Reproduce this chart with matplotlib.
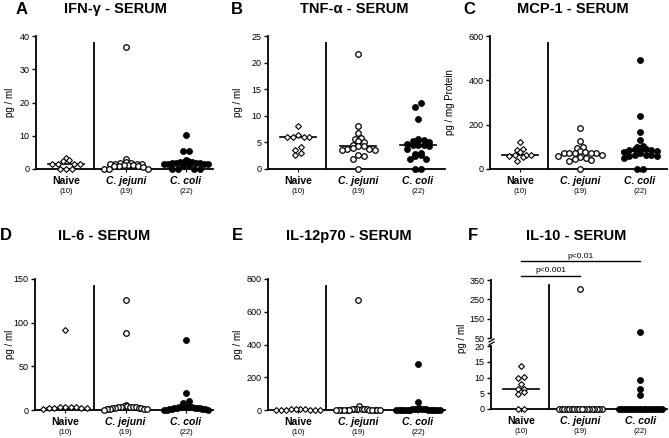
import matplotlib
matplotlib.use('Agg')
import matplotlib.pyplot as plt
import matplotlib.transforms as mtransforms
import numpy as np

plt.rcParams['font.family'] = ['Liberation Sans', 'DejaVu Sans']

# ---- data ----
groups = ['Naive', 'C. jejuni', 'C. coli']
counts = ['(10)', '(19)', '(22)']

ifng_naive = [3.2, 2.8, 2.3, 1.5, 1.5, 1.5, 1.5, 0, 0, 0]
ifng_jejuni = [36.8, 3.0, 2.0, 1.8, 1.8, 1.6, 1.5, 1.5, 1.4, 1.3, 1.2, 1.1, 1.0, 1.0, 0.9, 0.5, 0, 0, 0]
ifng_coli = [10.2, 5.5, 5.3, 2.8, 2.5, 2.2, 2.0, 2.0, 1.9, 1.8, 1.8, 1.7, 1.6, 1.5, 1.5, 1.4, 1.2, 1.0, 0, 0, 0, 0]

tnf_naive = [8.0, 6.3, 6.1, 6.1, 6.1, 6.1, 4.2, 3.6, 3.0, 2.6]
tnf_jejuni = [21.7, 8.1, 6.7, 5.8, 5.6, 5.2, 5.0, 4.5, 4.4, 4.3, 4.0, 3.8, 3.7, 3.6, 3.6, 2.6, 2.5, 1.8, 0]
tnf_coli = [12.5, 11.7, 9.4, 5.6, 5.4, 5.4, 5.3, 5.0, 4.7, 4.6, 4.5, 4.5, 4.3, 3.8, 3.0, 2.8, 2.6, 2.5, 1.8, 1.8, 0, 0]

mcp_naive = [120, 90, 85, 75, 65, 65, 62, 60, 55, 35]
mcp_jejuni = [185, 125, 100, 95, 80, 75, 72, 70, 70, 70, 70, 65, 60, 55, 50, 45, 40, 35, 0]
mcp_coli = [490, 238, 165, 130, 105, 100, 95, 90, 88, 85, 85, 80, 75, 70, 65, 65, 62, 60, 60, 50, 0, 0]

il6_naive = [92, 4, 4, 3.5, 3, 2.5, 2.5, 2, 2, 1]
il6_jejuni = [126, 88, 6, 5, 5, 4, 4, 3.5, 3, 3, 2.5, 2.5, 2, 2, 1.5, 1.5, 1, 1, 0.5]
il6_coli = [80, 19, 10, 8, 4, 4, 3.5, 3, 3, 3, 2.5, 2.5, 2, 2, 2, 1.5, 1.5, 1, 1, 0.5, 0.5, 0]

il12_naive = [8, 6, 4, 4, 3, 3, 2, 2, 1, 1]
il12_jejuni = [670, 25, 8, 6, 5, 5, 4, 4, 3, 3, 3, 2, 2, 2, 2, 1, 1, 0, 0]
il12_coli = [280, 50, 12, 8, 6, 5, 5, 4, 4, 3, 3, 3, 2, 2, 2, 2, 1, 1, 1, 0, 0, 0]

il10_naive = [13.8, 10.3, 9.8, 7.9, 6.3, 6.3, 5.5, 4.7, 0, 0]
il10_jejuni = [302] + [0] * 18
il10_coli = [80, 9.2, 6.5, 4.6] + [0] * 18

W, H = 669, 438
fig = plt.figure(figsize=(W / 100, H / 100), dpi=100)
XLIM = (0.5, 3.45)
PPU = 177 / (XLIM[1] - XLIM[0])   # pixels per x unit
SEP = 1.47


def add_ax(x0, x1, ytop, ybot):
    return fig.add_axes([x0 / W, 1 - ybot / H, (x1 - x0) / W, (ybot - ytop) / H])


def swarm_x(vals, center, ylim, h_px, d_px=5.0, maxw=0.72):
    """simple column-scatter layout: bin by pixel height, spread each row"""
    vals = np.asarray(vals, float)
    order = np.argsort(vals, kind='stable')
    scale = h_px / (ylim[1] - ylim[0])
    xs = np.full(len(vals), float(center))
    rows, cur, start = [], [], None
    for i in order:
        yp = vals[i] * scale
        if cur and yp - start > d_px * 0.9:
            rows.append(cur)
            cur = []
        if not cur:
            start = yp
        cur.append(i)
    if cur:
        rows.append(cur)
    for row in rows:
        n = len(row)
        if n == 1:
            continue
        dx = min(d_px * 1.1 / PPU, maxw / (n - 1))
        offs = (np.arange(n) - (n - 1) / 2) * dx
        # interleave so a row does not slope from low to high
        row = row[0::2] + row[1::2][::-1]
        for j, k in enumerate(row):
            xs[k] = center + offs[j]
    return xs


MARK = [dict(marker='D', ms=3.0, mfc='white', mec='black', mew=0.8),
        dict(marker='o', ms=4.0, mfc='white', mec='black', mew=0.9),
        dict(marker='o', ms=4.4, mfc='black', mec='black', mew=0.5)]


def style_ax(ax, ylim, yticks, bottom=True):
    ax.set_xlim(*XLIM)
    ax.set_ylim(*ylim)
    ax.set_yticks(yticks)
    ax.set_yticklabels([str(t) for t in yticks])
    for s in ['top', 'right']:
        ax.spines[s].set_visible(False)
    ax.spines['left'].set_linewidth(1.3)
    ax.spines['bottom'].set_linewidth(1.3)
    ax.tick_params(axis='y', direction='out', length=3, width=1, labelsize=6.5, pad=1.5)
    if bottom:
        ax.set_xticks([1, 2, 3])
        ax.set_xticklabels(['', '', ''])
        ax.tick_params(axis='x', direction='out', length=2, width=0.8)
    else:
        ax.spines['bottom'].set_visible(False)
        ax.set_xticks([])
    ax.patch.set_alpha(0)


def draw_points(ax, vals, gi, ylim, h_px, split=None):
    v = np.asarray(vals, float)
    if split is not None:
        v = v[split(v)]
    if len(v) == 0:
        return
    xs = swarm_x(v, gi + 1, ylim, h_px)
    ax.plot(xs, v, ls='none', clip_on=False, zorder=5, **MARK[gi])


def cat_labels(ax):
    tr = mtransforms.blended_transform_factory(ax.transData, ax.transAxes)
    for gi, (g, c) in enumerate(zip(groups, counts)):
        st = 'normal' if gi == 0 else 'italic'
        ax.annotate(g, (gi + 1, 0), xycoords=tr, xytext=(0, -8.6), textcoords='offset points',
                    ha='center', va='center', fontsize=7.5, fontweight='bold', fontstyle=st)
        ax.annotate(c, (gi + 1, 0), xycoords=tr, xytext=(0, -16.5), textcoords='offset points',
                    ha='center', va='center', fontsize=5.5)


def separator(ax, top=0.95):
    tr = mtransforms.blended_transform_factory(ax.transData, ax.transAxes)
    ax.plot([SEP, SEP], [0, top], transform=tr, color='black', lw=1.3, clip_on=False)


def panel(box, data, ylim, yticks, ylabel, lab_x):
    ax = add_ax(*box)
    style_ax(ax, ylim, yticks)
    h_px = box[3] - box[2]
    for gi, vals in enumerate(data):
        draw_points(ax, vals, gi, ylim, h_px)
        med = np.median(vals)
        ax.plot([gi + 1 - 0.3, gi + 1 + 0.3], [med, med], color='black', lw=1.2, zorder=4)
    separator(ax)
    cat_labels(ax)
    ax.set_ylabel(ylabel, fontsize=7)
    ax.yaxis.set_label_coords(lab_x, 0.5)
    return ax


def fig_text(x, y, s, **kw):
    fig.text(x / W, 1 - y / H, s, ha='center', va='center', **kw)


# ---- top row ----
panel((36, 213, 36, 169), [ifng_naive, ifng_jejuni, ifng_coli], (0, 40), [0, 10, 20, 30, 40], 'pg / ml', -0.12)
panel((268, 445, 36, 169), [tnf_naive, tnf_jejuni, tnf_coli], (0, 25), [0, 5, 10, 15, 20, 25], 'pg / ml', -0.14)
panel((490, 667, 36, 169), [mcp_naive, mcp_jejuni, mcp_coli], (0, 600), [0, 200, 400, 600], 'pg / mg Protein', -0.195)

# ---- bottom row ----
panel((35, 213, 279, 410), [il6_naive, il6_jejuni, il6_coli], (0, 150), [0, 50, 100, 150], 'pg / ml', -0.11)
panel((268, 445, 279, 410), [il12_naive, il12_jejuni, il12_coli], (0, 800), [0, 200, 400, 600, 800], 'pg / ml', -0.14)

# ---- F: broken y axis ----
axt = add_ax(491, 667, 280, 338)
axb = add_ax(491, 667, 346, 409)
style_ax(axt, (50, 350), [50, 150, 250, 350], bottom=False)
style_ax(axb, (0, 20), [0, 5, 10, 15, 20])
for gi, vals in enumerate([il10_naive, il10_jejuni, il10_coli]):
    draw_points(axb, vals, gi, (0, 20), 63, split=lambda v: v <= 20)
    draw_points(axt, vals, gi, (50, 350), 58, split=lambda v: v > 20)
    med = np.median(vals)
    axb.plot([gi + 1 - 0.3, gi + 1 + 0.3], [med, med], color='black', lw=1.2, zorder=4)
separator(axb, top=1.97)
cat_labels(axb)
# axis break marks
for yy in (340.5, 343.5):
    fig.add_artist(plt.Line2D([489 / W, 494 / W], [1 - (yy + 1.5) / H, 1 - (yy - 1.5) / H],
                              color='black', lw=0.9))
fig_text(462, 338, 'pg / ml', fontsize=7, rotation=90)

# significance bars
trt = mtransforms.blended_transform_factory(axt.transData, fig.transFigure)
for (x0, x1, yb, txt) in [(1, 2, 276, 'p<0.001'), (1, 3, 261, 'p<0.01')]:
    axt.plot([x0, x1], [1 - yb / H, 1 - yb / H], transform=trt, color='black', lw=1.0, clip_on=False)
    axt.text((x0 + x1) / 2, 1 - (yb - 5) / H, txt, transform=trt, ha='center', va='center', fontsize=6)

# ---- titles and panel letters ----
titles = [('A', 22, 9, 'IFN-γ - SERUM', 115), ('B', 237, 9, 'TNF-α - SERUM', 354),
          ('C', 469, 9, 'MCP-1 - SERUM', 573), ('D', 6, 236, 'IL-6 - SERUM', 104),
          ('E', 237, 236, 'IL-12p70 - SERUM', 349), ('F', 473, 236, 'IL-10 - SERUM', 576)]
for letter, lx, ly, title, tx in titles:
    fig_text(lx, ly, letter, fontsize=12, fontweight='bold')
    fig_text(tx, ly, title, fontsize=10.5, fontweight='bold')

fig.savefig('out.png', dpi=100, facecolor='white')
